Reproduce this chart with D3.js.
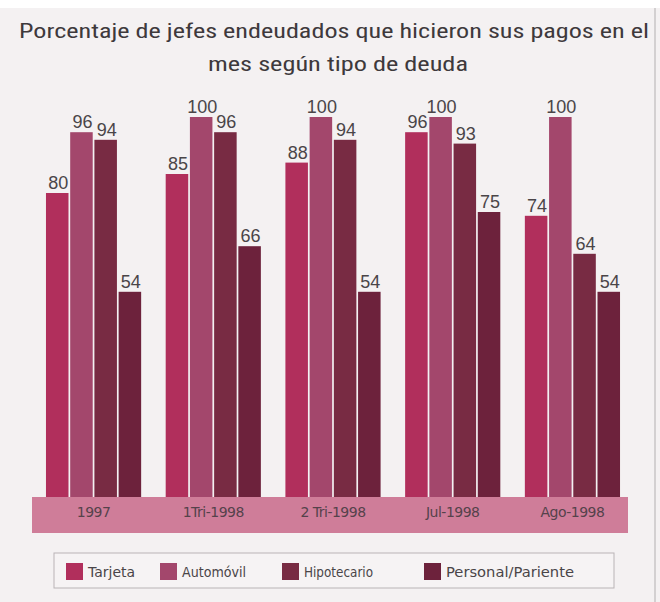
<!DOCTYPE html>
<html>
<head>
<meta charset="utf-8">
<script src="https://cdn.jsdelivr.net/npm/d3@7"></script>
<style>
html,body{margin:0;padding:0;background:#ffffff;}
svg{display:block;}
</style>
</head>
<body>
<svg id="chart" width="660" height="602"></svg>
<script>
const categories = ["1997", "1Tri-1998", "2 Tri-1998", "Jul-1998", "Ago-1998"];
const seriesNames = ["Tarjeta", "Automóvil", "Hipotecario", "Personal/Pariente"];
const tarjeta = [80, 85, 88, 96, 74];
const automovil = [96, 100, 100, 100, 100];
const hipotecario = [94, 96, 94, 93, 64];
const personal = [54, 66, 54, 75, 54];
const titleLines = ["Porcentaje de jefes endeudados que hicieron sus pagos en el", "mes según tipo de deuda"];

const seriesValues = [tarjeta, automovil, hipotecario, personal];
const colors = ["#b12f5c", "#a3476c", "#782b43", "#6d223c"];

const svg = d3.select("#chart");
svg.append("rect").attr("x",0).attr("y",0).attr("width",660).attr("height",602).attr("fill","#f4f1f2");
svg.append("rect").attr("x",0).attr("y",0).attr("width",660).attr("height",8).attr("fill","#ffffff");
svg.append("line").attr("x1",655).attr("x2",655).attr("y1",8).attr("y2",602).attr("stroke","#c9c4c6").attr("stroke-width",1.5);

const titleFont = "'Liberation Sans Narrow','Roboto Condensed','Liberation Sans',sans-serif";
svg.append("text").attr("x",334).attr("y",38).attr("text-anchor","middle")
  .attr("font-family",titleFont).attr("font-size",21).attr("fill","#3e393c")
  .attr("textLength",630).attr("lengthAdjust","spacingAndGlyphs").text(titleLines[0]);
svg.append("text").attr("x",338).attr("y",71).attr("text-anchor","middle")
  .attr("font-family",titleFont).attr("font-size",21).attr("fill","#3e393c")
  .attr("textLength",260).attr("lengthAdjust","spacingAndGlyphs").text(titleLines[1]);

const x0 = d3.scaleBand().domain(categories).range([34, 632]).paddingInner(0.205).paddingOuter(0.1);
const x1 = d3.scaleBand().domain(seriesNames).range([0, x0.bandwidth()]).paddingInner(0.07);
const y = d3.scaleLinear().domain([0, 100]).range([497, 117]);

const data = [];
categories.forEach((c, i) => {
  seriesNames.forEach((s, j) => data.push({cat: c, series: s, value: seriesValues[j][i], idx: j}));
});

const g = svg.append("g");
g.selectAll("rect.bar").data(data).enter().append("rect")
  .attr("class","bar")
  .attr("x", d => x0(d.cat) + x1(d.series))
  .attr("y", d => y(d.value))
  .attr("width", x1.bandwidth())
  .attr("height", d => y(0) - y(d.value))
  .attr("fill", d => colors[d.idx]);

const labelFont = "'Liberation Sans Narrow','Liberation Sans',sans-serif";
g.selectAll("text.val").data(data).enter().append("text")
  .attr("class","val")
  .attr("x", d => x0(d.cat) + x1(d.series) + x1.bandwidth()/2 + 1)
  .attr("y", d => y(d.value) - 4)
  .attr("text-anchor","middle")
  .attr("font-family", labelFont)
  .attr("font-size", 18)
  .attr("fill", "#4a4548")
  .text(d => d.value);

svg.append("rect").attr("x",32).attr("y",497).attr("width",596).attr("height",36).attr("fill","#cf7d99");
const xAxis = d3.axisBottom(x0).tickSize(0).tickPadding(0);
const ax = svg.append("g").attr("transform","translate(0,507)").call(xAxis);
ax.select(".domain").remove();
ax.selectAll("text").attr("font-family","'DejaVu Sans',sans-serif").attr("font-size",14)
  .attr("fill","#55424b").attr("dy","0.71em").style("letter-spacing","-0.5px");

svg.append("rect").attr("x",54).attr("y",553).attr("width",560).attr("height",35)
  .attr("fill","#f6f3f4").attr("stroke","#b9b4b6").attr("stroke-width",1);
const legendX = [66, 160, 282, 424];
const legendW = [47, 64, 69, 128];
const lg = svg.append("g").selectAll("g").data(seriesNames).enter().append("g")
  .attr("transform",(d,i)=>`translate(${legendX[i]},563)`);
lg.append("rect").attr("width",17).attr("height",17).attr("fill",(d,i)=>colors[i]);
lg.append("text").attr("x",22).attr("y",14).attr("font-family","'DejaVu Sans',sans-serif")
  .attr("font-size",14).attr("fill","#4a4548")
  .attr("textLength",(d,i)=>legendW[i]).attr("lengthAdjust","spacingAndGlyphs").text(d=>d);
</script>
</body>
</html>
